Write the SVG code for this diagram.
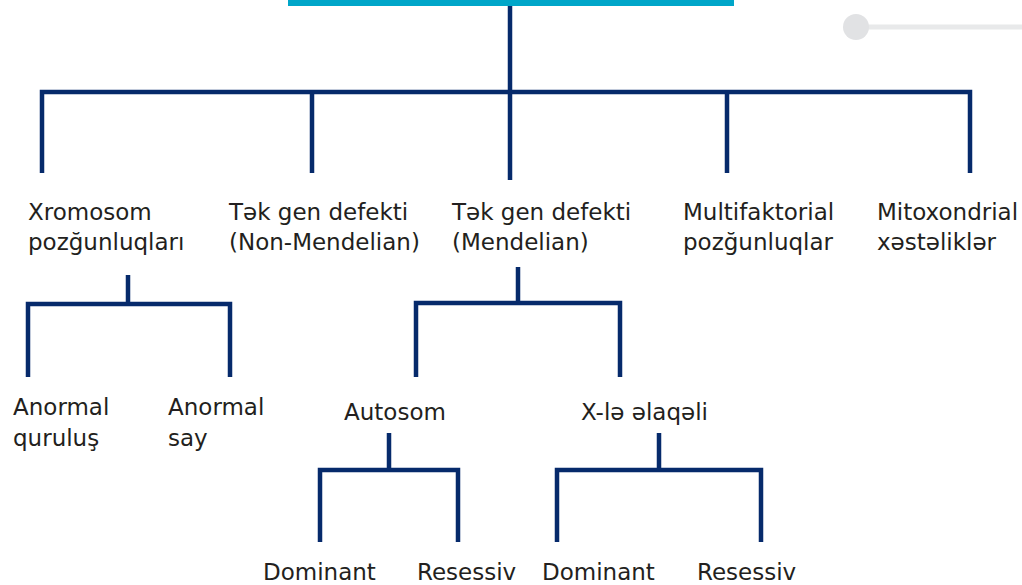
<svg xmlns="http://www.w3.org/2000/svg" width="1022" height="585" viewBox="0 0 1022 585">
<style>
.ln{stroke:#062a6b;stroke-width:4.5;fill:none;stroke-linecap:butt;stroke-linejoin:miter}
.t{font-family:"DejaVu Sans","Liberation Sans",sans-serif;font-size:23px;fill:#231f20}
</style>
<rect width="1022" height="585" fill="#ffffff"/>
<g id="decor">
<rect x="288" y="0" width="446" height="6" fill="#00a6c9"/>
<line x1="856" y1="27" x2="1022" y2="27" stroke="#e8e9ea" stroke-width="5"/>
<circle cx="856" cy="27" r="13" fill="#e1e2e4"/>
</g>
<g id="connectors">
<path class="ln" d="M510 6V180"/>
<path class="ln" d="M42 173V92H970V173"/>
<path class="ln" d="M312 92V173M727 92V173"/>
<path class="ln" d="M128 275V304M28 377V304H230V377"/>
<path class="ln" d="M518 267V303M416 377V303H620V377"/>
<path class="ln" d="M389 433V470M320 542V470H458V542"/>
<path class="ln" d="M659 433V470M557 542V470H761V542"/>
</g>
<g id="n1"><text class="t" x="28" y="220">Xromosom</text><text class="t" x="28" y="250">pozğunluqları</text></g>
<g id="n2"><text class="t" x="229" y="220">Tək gen defekti</text><text class="t" x="229" y="250">(Non-Mendelian)</text></g>
<g id="n3"><text class="t" x="452" y="220">Tək gen defekti</text><text class="t" x="452" y="250">(Mendelian)</text></g>
<g id="n4"><text class="t" x="683" y="220">Multifaktorial</text><text class="t" x="683" y="250">pozğunluqlar</text></g>
<g id="n5"><text class="t" x="877" y="220">Mitoxondrial</text><text class="t" x="877" y="250">xəstəliklər</text></g>
<g id="n6"><text class="t" x="13" y="415">Anormal</text><text class="t" x="13" y="446">quruluş</text></g>
<g id="n7"><text class="t" x="168" y="415">Anormal</text><text class="t" x="168" y="446">say</text></g>
<g id="n8"><text class="t" x="344" y="420">Autosom</text></g>
<g id="n9"><text class="t" x="581" y="420">X-lə əlaqəli</text></g>
<g id="n10"><text class="t" x="263" y="580">Dominant</text></g>
<g id="n11"><text class="t" x="417" y="580">Resessiv</text></g>
<g id="n12"><text class="t" x="542" y="580">Dominant</text></g>
<g id="n13"><text class="t" x="697" y="580">Resessiv</text></g>
</svg>
